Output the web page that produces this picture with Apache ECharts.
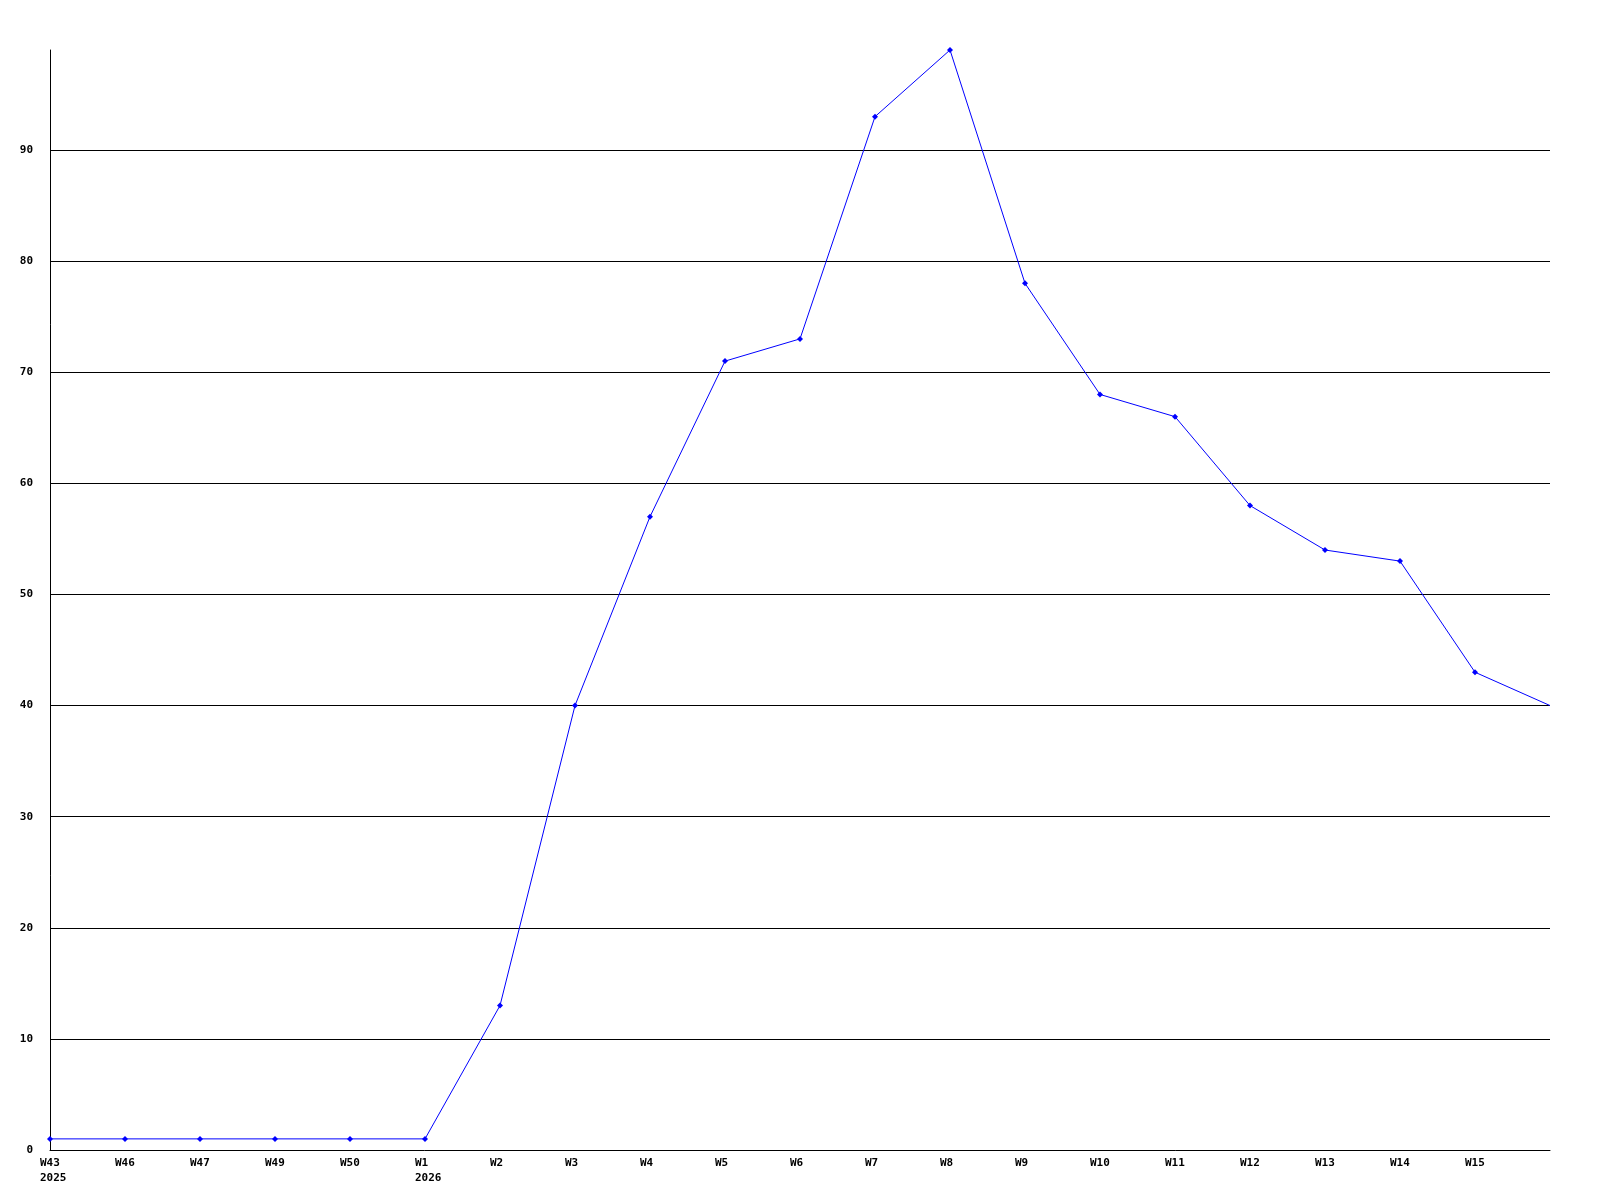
<!DOCTYPE html>
<html>
<head>
<meta charset="utf-8">
<script src="https://cdn.jsdelivr.net/npm/echarts@6/dist/echarts.min.js"></script>
<style>
  html, body { margin: 0; padding: 0; background: #fff; }
  #chart { width: 1600px; height: 1200px; }
</style>
</head>
<body>
<div id="chart"></div>
<script>
const weeks = ["W43", "W46", "W47", "W49", "W50", "W1", "W2", "W3", "W4", "W5", "W6",
  "W7", "W8", "W9", "W10", "W11", "W12", "W13", "W14", "W15", ""];
const yearMarks = { W43: "2025", W1: "2026" };
const counts = [1, 1, 1, 1, 1, 1, 13, 40, 57, 71, 73, 93, 99, 78, 68, 66, 58, 54, 53, 43, 40];
const yMax = 99;

const labelFont = { fontFamily: "DejaVu Sans Mono", fontWeight: "bold", fontSize: 11, color: "#000" };

const chart = echarts.init(document.getElementById("chart"));
chart.setOption({
  backgroundColor: "#fff",
  animation: false,
  grid: { left: 50, right: 50, top: 50, bottom: 50 },
  xAxis: {
    type: "category",
    boundaryGap: false,
    data: weeks.map((w) => (yearMarks[w] ? `${w}\n${yearMarks[w]}` : w)),
    axisLine: { lineStyle: { color: "#000", width: 1 } },
    axisTick: { show: false },
    // labels start a little left of their point, left aligned
    axisLabel: { ...labelFont, interval: 0, margin: 6, lineHeight: 15, verticalAlign: "top", align: "left", padding: [0, 0, 0, -10] },
    splitLine: { show: false }
  },
  yAxis: {
    type: "value",
    min: 0,
    max: yMax,
    interval: 10,
    axisLine: { show: true, lineStyle: { color: "#000", width: 1 } },
    axisTick: { show: false },
    axisLabel: {
      ...labelFont,
      margin: 17,
      showMaxLabel: false,
      formatter: (v) => (v % 10 === 0 ? String(v) : "")
    },
    splitLine: { show: true, showMinLine: false, showMaxLine: false, lineStyle: { color: "#000", width: 1 } }
  },
  series: [
    {
      type: "line",
      data: counts.map((v, i) => (i === counts.length - 1 ? { value: v, symbol: "none" } : v)),
      symbol: "diamond",
      symbolSize: 6,
      lineStyle: { color: "#0000ff", width: 1 },
      itemStyle: { color: "#0000ff" }
    }
  ]
});
</script>
</body>
</html>
